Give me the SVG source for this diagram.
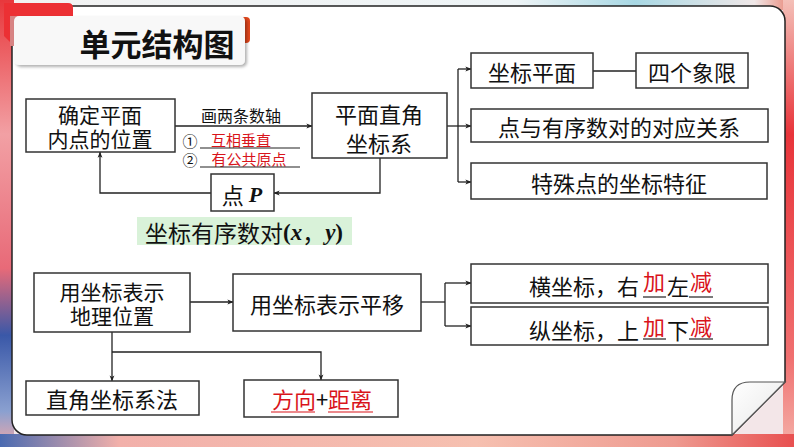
<svg xmlns="http://www.w3.org/2000/svg" width="794" height="447" viewBox="0 0 794 447">
<defs>
<linearGradient id="lg" x1="0" y1="0" x2="0" y2="1">
<stop offset="0" stop-color="#e8383c"/><stop offset="0.3" stop-color="#f2a0a4"/><stop offset="0.6" stop-color="#e86a78"/><stop offset="0.75" stop-color="#3a58a8"/><stop offset="0.92" stop-color="#8aa0d0"/><stop offset="1" stop-color="#f0a8a8"/>
</linearGradient>
<linearGradient id="rg" x1="0" y1="0" x2="0" y2="1">
<stop offset="0" stop-color="#f4c0b8"/><stop offset="0.3" stop-color="#e8343a"/><stop offset="0.8" stop-color="#f07070"/><stop offset="1" stop-color="#f4b0a8"/>
</linearGradient>
<linearGradient id="bg" x1="0" y1="0" x2="1" y2="0">
<stop offset="0" stop-color="#4a6ab0"/><stop offset="0.15" stop-color="#f2b0aa"/><stop offset="0.6" stop-color="#f6c0b0"/><stop offset="0.85" stop-color="#ee9a90"/><stop offset="1" stop-color="#e85050"/>
</linearGradient>
<linearGradient id="tg" x1="0" y1="0" x2="1" y2="0">
<stop offset="0" stop-color="#f2f2f2"/><stop offset="0.65" stop-color="#eef4f6"/><stop offset="0.8" stop-color="#a8d8e4"/><stop offset="0.95" stop-color="#f0e8e8"/><stop offset="1" stop-color="#e88070"/>
</linearGradient>
<linearGradient id="flap" x1="0" y1="0" x2="1" y2="1">
<stop offset="0" stop-color="#ffffff"/><stop offset="1" stop-color="#e6e6e6"/>
</linearGradient>
<marker id="ar" viewBox="0 0 8 8" refX="7.5" refY="4" markerWidth="6" markerHeight="6" orient="auto" markerUnits="userSpaceOnUse">
<path d="M0,0.8 L8,4 L0,7.2 L2,4 Z" fill="#222"/>
</marker>
<filter id="sh" x="-5%" y="-10%" width="110%" height="130%">
<feDropShadow dx="2" dy="2" stdDeviation="1.5" flood-color="#000" flood-opacity="0.3"/>
</filter>
<style>
.box{fill:#fff;stroke:#333;stroke-width:1.5}
.t{font-family:"Noto Sans CJK SC","Liberation Sans",sans-serif;font-size:22px;fill:#111;text-anchor:middle;dominant-baseline:central}
.m{font-size:21px}
.s{font-size:15px}
.red{fill:#d9141b}
.ln{fill:none;stroke:#222;stroke-width:1.3}
.ul{stroke:#222;stroke-width:1.2}
.ser{font-family:"Liberation Serif",serif;font-weight:bold}
</style>
</defs>

<!-- background frame -->
<rect x="0" y="0" width="794" height="447" fill="#f3e6e8"/>
<rect x="0" y="0" width="794" height="10" fill="url(#tg)"/>
<rect x="0" y="0" width="14" height="447" fill="url(#lg)"/>
<rect x="783" y="0" width="11" height="447" fill="url(#rg)"/>
<rect x="0" y="434" width="794" height="13" fill="url(#bg)"/>

<!-- main panel -->
<path d="M12,6 H770 A15,15 0 0 1 785,21 V382 L732,435 H27 A15,15 0 0 1 12,420 Z" fill="#fff" stroke="#222" stroke-width="1.5"/>
<path d="M785,382 H750 Q732,382 732,400 V435 Z" fill="url(#flap)" stroke="#555" stroke-width="1.2"/>

<!-- title -->
<g id="title">
<path d="M4,3 H68 Q73,3 73,8 V42 H10 L4,36 Z" fill="#ec3034"/>
<rect x="10" y="16" width="76" height="30" fill="#d88484"/>
<rect x="240" y="17" width="10" height="26" rx="4" fill="#e0461c"/>
<rect x="14" y="16" width="231" height="49" rx="5" fill="#f8f8f8" filter="url(#sh)"/>
<text x="157" y="42" class="t" style="font-size:31px;font-weight:bold">单元结构图</text>
</g>

<!-- connectors -->
<g id="connectors">
<line x1="175" y1="126" x2="312" y2="126" class="ln" marker-end="url(#ar)"/>
<polyline points="380,158 380,193 274,193" class="ln" marker-end="url(#ar)"/>
<polyline points="211,193 100,193 100,152" class="ln" marker-end="url(#ar)"/>
<line x1="447" y1="126" x2="458" y2="126" class="ln"/>
<line x1="458" y1="69" x2="458" y2="182" class="ln"/>
<line x1="458" y1="69" x2="471" y2="69" class="ln" marker-end="url(#ar)"/>
<line x1="458" y1="126" x2="471" y2="126" class="ln" marker-end="url(#ar)"/>
<line x1="458" y1="182" x2="471" y2="182" class="ln" marker-end="url(#ar)"/>
<line x1="593" y1="71" x2="636" y2="71" class="ln"/>
<line x1="190" y1="302" x2="233" y2="302" class="ln" marker-end="url(#ar)"/>
<line x1="421" y1="302" x2="445" y2="302" class="ln"/>
<line x1="445" y1="283" x2="445" y2="326" class="ln"/>
<line x1="445" y1="283" x2="471" y2="283" class="ln" marker-end="url(#ar)"/>
<line x1="445" y1="326" x2="471" y2="326" class="ln" marker-end="url(#ar)"/>
<line x1="112" y1="332" x2="112" y2="381" class="ln" marker-end="url(#ar)"/>
<polyline points="112,352 321,352 321,380" class="ln" marker-end="url(#ar)"/>
</g>

<!-- edge labels -->
<g id="axis-labels">
<text x="241" y="115" class="t" style="font-size:16px">画两条数轴</text>
<text x="190" y="140" class="t s">①</text>
<text x="241" y="139" class="t red" style="font-size:15px">互相垂直</text>
<line x1="200" y1="148" x2="300" y2="148" class="ul"/>
<text x="190" y="159" class="t s">②</text>
<text x="249" y="158" class="t red" style="font-size:15px">有公共原点</text>
<line x1="200" y1="167" x2="300" y2="167" class="ul"/>
</g>

<g id="n1">
<rect x="26" y="99" width="149" height="53" class="box"/>
<text class="t m"><tspan x="100" y="114">确定平面</tspan><tspan x="100" y="138">内点的位置</tspan></text>
</g>
<g id="n2">
<rect x="312" y="93" width="135" height="65" class="box"/>
<text class="t"><tspan x="379" y="113">平面直角</tspan><tspan x="379" y="142">坐标系</tspan></text>
</g>
<g id="nP">
<rect x="211" y="174" width="63" height="37" class="box"/>
<text x="242" y="194" class="t"><tspan>点 </tspan><tspan class="ser" font-style="italic">P</tspan></text>
</g>
<g id="nxy">
<rect x="137" y="217" width="215" height="28" fill="#d9f2d9"/>
<text x="244" y="232" class="t" style="font-size:23px">坐标有序数对<tspan class="ser">(</tspan><tspan class="ser" font-style="italic">x</tspan>，<tspan class="ser" font-style="italic">y</tspan><tspan class="ser">)</tspan></text>
</g>

<g id="n3">
<rect x="471" y="53" width="122" height="35" class="box"/>
<text x="532" y="71" class="t">坐标平面</text>
</g>
<g id="n4">
<rect x="636" y="53" width="112" height="35" class="box"/>
<text x="692" y="71" class="t">四个象限</text>
</g>
<g id="n5">
<rect x="471" y="109" width="297" height="33" class="box"/>
<text x="619" y="126" class="t">点与有序数对的对应关系</text>
</g>
<g id="n6">
<rect x="471" y="163" width="296" height="36" class="box"/>
<text x="619" y="182" class="t">特殊点的坐标特征</text>
</g>

<g id="n7">
<rect x="34" y="273" width="156" height="59" class="box"/>
<text class="t m"><tspan x="112" y="291">用坐标表示</tspan><tspan x="112" y="315">地理位置</tspan></text>
</g>
<g id="n8">
<rect x="233" y="274" width="188" height="57" class="box"/>
<text x="327" y="303" class="t">用坐标表示平移</text>
</g>
<g id="n9">
<rect x="471" y="264" width="297" height="39" class="box"/>
<text x="584" y="285" class="t">横坐标，右</text>
<text x="654" y="280" class="t red">加</text>
<line x1="643" y1="297" x2="666" y2="297" class="ul"/>
<text x="678" y="285" class="t">左</text>
<text x="701" y="280" class="t red">减</text>
<line x1="689" y1="297" x2="713" y2="297" class="ul"/>
</g>
<g id="n10">
<rect x="471" y="307" width="297" height="38" class="box"/>
<text x="584" y="329" class="t">纵坐标，上</text>
<text x="654" y="325" class="t red">加</text>
<line x1="643" y1="339" x2="666" y2="339" class="ul"/>
<text x="678" y="329" class="t">下</text>
<text x="701" y="325" class="t red">减</text>
<line x1="689" y1="339" x2="713" y2="339" class="ul"/>
</g>
<g id="n11">
<rect x="26" y="381" width="173" height="34" class="box"/>
<text x="112" y="398" class="t">直角坐标系法</text>
</g>
<g id="n12">
<rect x="244" y="380" width="154" height="37" class="box"/>
<text x="322" y="398" class="t"><tspan class="red">方向</tspan>+<tspan class="red">距离</tspan></text>
<line x1="271" y1="412" x2="315" y2="412" style="stroke:#d9141b;stroke-width:1.2"/>
<line x1="328" y1="412" x2="373" y2="412" style="stroke:#d9141b;stroke-width:1.2"/>
</g>
</svg>
